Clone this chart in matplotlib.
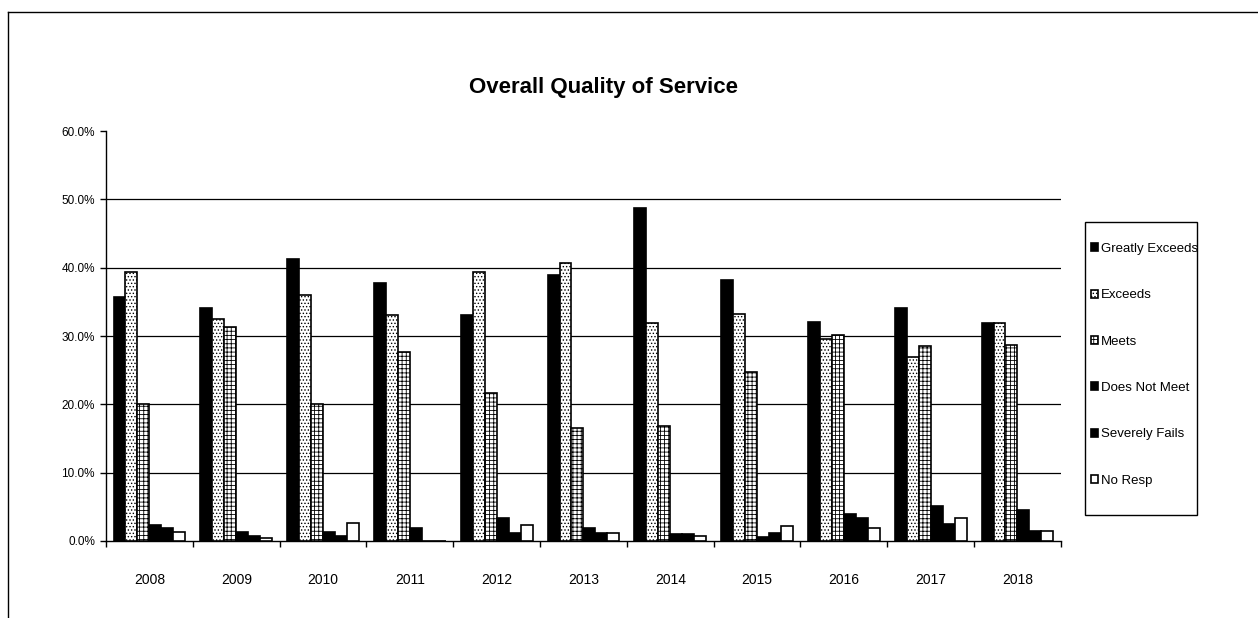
import matplotlib
matplotlib.use("Agg")
import matplotlib.pyplot as plt
from matplotlib.lines import Line2D
from matplotlib.patches import Rectangle
from matplotlib.ticker import FixedLocator, FuncFormatter
import numpy as np

plt.rcParams['font.family'] = ['Liberation Sans', 'DejaVu Sans']
plt.rcParams['hatch.linewidth'] = 0.6

years = ['2008', '2009', '2010', '2011', '2012', '2013', '2014', '2015', '2016', '2017', '2018']
series_names = ['Greatly Exceeds', 'Exceeds', 'Meets', 'Does Not Meet', 'Severely Fails', 'No Resp']

greatly_exceeds = [35.7, 34.1, 41.2, 37.7, 33.1, 39.0, 48.8, 38.2, 32.0, 34.1, 31.9]
exceeds = [39.4, 32.5, 36.0, 33.1, 39.3, 40.7, 31.9, 33.2, 29.6, 26.9, 31.9]
meets = [20.0, 31.3, 20.0, 27.7, 21.6, 16.5, 16.9, 24.8, 30.2, 28.5, 28.7]
does_not_meet = [2.3, 1.3, 1.3, 1.9, 3.3, 1.85, 1.0, 0.6, 3.9, 5.1, 4.6]
severely_fails = [1.85, 0.7, 0.7, 0.0, 1.2, 1.2, 1.0, 1.2, 3.3, 2.45, 1.45]
no_resp = [1.3, 0.45, 2.7, 0.0, 2.3, 1.1, 0.7, 2.2, 1.95, 3.3, 1.45]

series_values = [greatly_exceeds, exceeds, meets, does_not_meet, severely_fails, no_resp]
styles = [
    dict(facecolor='black', hatch=None),
    dict(facecolor='white', hatch='.....'),
    dict(facecolor='white', hatch='++++'),
    dict(facecolor='black', hatch=None),
    dict(facecolor='black', hatch=None),
    dict(facecolor='white', hatch=None),
]

fig = plt.figure(figsize=(12.58, 6.18), dpi=100)
ax = fig.add_axes([0.0843, 0.1246, 0.759, 0.6634])

x = np.arange(len(years))
n = len(series_names)
width = 0.138
handles = []
for i, (name, vals, st) in enumerate(zip(series_names, series_values, styles)):
    offs = (i - (n - 1) / 2) * width
    bars = ax.bar(x + offs, vals, width, facecolor=st['facecolor'], hatch=st['hatch'],
                  edgecolor='black', linewidth=1.2, label=name, zorder=3)
    handles.append(bars)

ax.set_xlim(-0.5, len(years) - 0.5)
ax.set_ylim(0, 60)

ax.yaxis.set_major_locator(FixedLocator([0, 10, 20, 30, 40, 50, 60]))
ax.yaxis.set_major_formatter(FuncFormatter(lambda v, p: f'{v:.1f}%'))
for yv in [10, 20, 30, 40, 50]:
    ax.axhline(yv, color='black', linewidth=0.9, zorder=1)

ax.set_xticks(x)
ax.set_xticklabels(years)
ax.xaxis.set_minor_locator(FixedLocator(np.arange(-0.5, len(years), 1.0)))
ax.tick_params(axis='x', which='major', length=0, labelsize=10, pad=23)
ax.tick_params(axis='x', which='minor', length=4, width=1, direction='out')
ax.tick_params(axis='y', which='major', length=4, width=1, direction='out', labelsize=8.5, pad=4)

for side in ['top', 'right']:
    ax.spines[side].set_visible(False)
ax.spines['left'].set_linewidth(1.0)
ax.spines['bottom'].set_linewidth(1.0)

fig.text(0.480, 1 - 88 / 618, 'Overall Quality of Service', ha='center', va='center',
         fontsize=16, fontweight='bold')

# legend frame and entries
fig.add_artist(Rectangle((1085 / 1258, 1 - 515 / 618), 112 / 1258, 293 / 618,
                         transform=fig.transFigure, facecolor='white',
                         edgecolor='black', linewidth=1.0))
leg = fig.legend(handles=handles, labels=series_names,
                 loc='upper left', bbox_to_anchor=(1091 / 1258, 1 - 243 / 618),
                 fontsize=9.5, frameon=False, handlelength=0.55, handleheight=0.55,
                 handletextpad=0.2, labelspacing=2.6, borderpad=0.0,
                 borderaxespad=0.0)

# page border lines
fig.add_artist(Line2D([0.0064, 1.0], [0.9806, 0.9806], color='black', linewidth=1.0,
                      transform=fig.transFigure))
fig.add_artist(Line2D([0.0064, 0.0064], [0.0, 0.9806], color='black', linewidth=1.0,
                      transform=fig.transFigure))

fig.savefig('out.png', dpi=100)
